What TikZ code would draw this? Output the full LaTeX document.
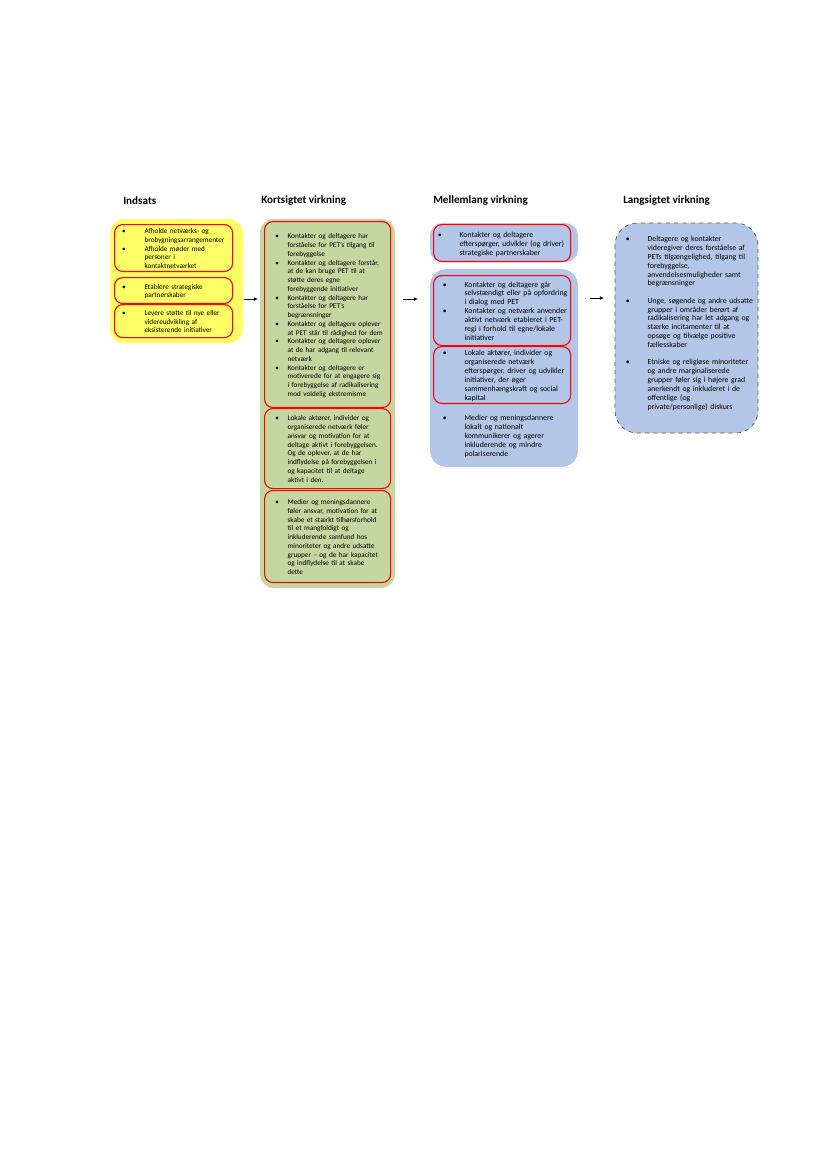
\documentclass[tikz,border=0pt]{standalone}
\usepackage{fontspec}
\setmainfont{Carlito}
\usetikzlibrary{arrows.meta}

\definecolor{indsatsgul}{RGB}{255,255,102}
\definecolor{kortgroen}{RGB}{196,215,160}
\definecolor{mellemblaa}{RGB}{180,198,231}
\definecolor{rammegraa}{RGB}{90,90,90}

\newlength{\itmhang}
\newlength{\itmgap}
\newcommand{\itm}[1]{\par\lineskip=0pt\noindent\makebox[\itmhang][r]{\textbullet\hspace{\itmgap}}\begin{tabular}[t]{@{}l@{}}#1\end{tabular}\par}
\newcommand{\itmfont}{\fontsize{5.2}{6.3}\selectfont}
\newcommand{\bigitmfont}{\fontsize{5.6}{6.4}\selectfont}

\begin{document}
\begin{tikzpicture}[x=0.72pt, y=-0.72pt, line join=round,
  heading/.style={anchor=west, font=\fontsize{8}{9}\selectfont\bfseries, inner sep=0pt},
  redbox/.style={draw=red, line width=0.8pt, rounded corners=6pt, anchor=north west,
    inner xsep=2.9pt, inner ysep=0pt, align=left, font=\itmfont},
  plainbox/.style={redbox, draw=none},
  yitems/.style={text width=79.2pt, execute at begin node={\setlength{\itmhang}{18.7pt}\setlength{\itmgap}{13.5pt}}},
  gitems/.style={text width=85pt, execute at begin node={\setlength{\itmhang}{13.7pt}\setlength{\itmgap}{6.3pt}}},
  mtop/.style={text width=92.9pt, font=\bigitmfont, execute at begin node={\setlength{\itmhang}{15.8pt}\setlength{\itmgap}{12.8pt}}},
  mitems/.style={text width=92.9pt, font=\bigitmfont, execute at begin node={\setlength{\itmhang}{19.4pt}\setlength{\itmgap}{12.8pt}}},
  litems/.style={text width=97pt, font=\bigitmfont, execute at begin node={\setlength{\itmhang}{20.2pt}\setlength{\itmgap}{12.8pt}}},
  pil/.style={-{Latex[length=3pt,width=2.6pt]}, line width=0.5pt, black}]

\useasboundingbox (0,0) rectangle (827,1169);

\node[heading] (indsats) at (123,201) {Indsats};
\node[heading] (kort) at (261,201) {Kortsigtet virkning};
\node[heading] (mellem) at (433,201) {Mellemlang virkning};
\node[heading] (lang) at (623,201) {Langsigtet virkning};

\fill[indsatsgul, rounded corners=10pt] (110,219) rectangle (243,343);
\fill[kortgroen, rounded corners=10pt] (260,219) rectangle (395,588);
\fill[mellemblaa, rounded corners=9pt] (430,223) rectangle (578,262);
\fill[mellemblaa, rounded corners=12pt] (430,269) rectangle (578,467);
\draw[fill=mellemblaa, draw=rammegraa, dashed, line width=0.5pt, rounded corners=16pt] (615,223) rectangle (758,433);

\node[redbox, yitems, minimum height=33.8pt] (y1) at (114,224)
{\itm{Afholde netværks- og\\brobygningsarrangementer}\itm{Afholde møder med\\personer i\\kontaktnetværket}};
\node[redbox, yitems, minimum height=18.7pt] (y2) at (114,277)
{\itm{Etablere strategiske\\partnerskaber}};
\node[redbox, yitems, minimum height=23.8pt] (y3) at (114,304)
{\itm{Levere støtte til nye eller\\videreudvikling af\\eksisterende initiativer}};

\node[redbox, gitems, minimum height=133.9pt] (g1) at (264,221)
{\itm{Kontakter og deltagere har\\forståelse for PET's tilgang til\\forebyggelse}%
\itm{Kontakter og deltagere forstår,\\at de kan bruge PET til at\\støtte deres egne\\forebyggende initiativer}%
\itm{Kontakter og deltagere har\\forståelse for PET's\\begrænsninger}%
\itm{Kontakter og deltagere oplever\\at PET står til rådighed for dem}%
\itm{Kontakter og deltagere oplever\\at de har adgang til relevant\\netværk}%
\itm{Kontakter og deltagere er\\motiverede for at engagere sig\\i forebyggelse af radikalisering\\mod voldelig ekstremisme}};
\node[redbox, gitems, minimum height=57.6pt] (g2) at (264,408)
{\itm{Lokale aktører, individer og\\organiserede netværk føler\\ansvar og motivation for at\\deltage aktivt i forebyggelsen.\\Og de oplever, at de har\\indflydelse på forebyggelsen i\\og kapacitet til at deltage\\aktivt i den.}};
\node[redbox, gitems, minimum height=66.2pt] (g3) at (264,490)
{\itm{Medier og meningsdannere\\føler ansvar, motivation for at\\skabe et stærkt tilhørsforhold\\til et mangfoldigt og\\inkluderende samfund hos\\minoriteter og andre udsatte\\grupper – og de har kapacitet\\og indflydelse til at skabe\\dette}};

\node[redbox, mtop, minimum height=26.6pt] (m1) at (433,224)
{\itm{Kontakter og deltagere\\efterspørger, udvikler (og driver)\\strategiske partnerskaber}};
\node[redbox, mitems, minimum height=50.4pt] (m2) at (433,275)
{\itm{Kontakter og deltagere går\\selvstændigt eller på opfordring\\i dialog med PET}%
\itm{Kontakter og netværk anvender\\aktivt netværk etableret i PET-\\regi i forhold til egne/lokale\\initiativer}};
\node[redbox, mitems, minimum height=41pt] (m3) at (433,346)
{\itm{Lokale aktører, individer og\\organiserede netværk\\efterspørger, driver og udvikler\\initiativer, der øger\\sammenhængskraft og social\\kapital}};
\node[plainbox, mitems] (m4) at (433,411)
{\itm{Medier og meningsdannere\\lokalt og nationalt\\kommunikerer og agerer\\inkluderende og mindre\\polariserende}};

\node[plainbox, litems] (l1) at (615,232)
{\itm{Deltagere og kontakter\\videregiver deres forståelse af\\PETs tilgængelighed, tilgang til\\forebyggelse,\\anvendelsesmuligheder samt\\begrænsninger}\vspace{6pt}%
\itm{Unge, søgende og andre udsatte\\grupper i områder berørt af\\radikalisering har let adgang og\\stærke incitamenter til at\\opsøge og tilvælge positive\\fællesskaber}\vspace{6pt}%
\itm{Etniske og religiøse minoriteter\\og andre marginaliserede\\grupper føler sig i højere grad\\anerkendt og inkluderet i de\\offentlige (og\\private/personlige) diskurs}};

\coordinate (a1s) at (244,299);
\coordinate (a1e) at (258,299);
\coordinate (a2s) at (403,299);
\coordinate (a2e) at (418,299);
\coordinate (a3s) at (590,298);
\coordinate (a3e) at (604,298);
\draw[pil] (a1s) -- (a1e);
\draw[pil] (a2s) -- (a2e);
\draw[pil] (a3s) -- (a3e);

\end{tikzpicture}
\end{document}
